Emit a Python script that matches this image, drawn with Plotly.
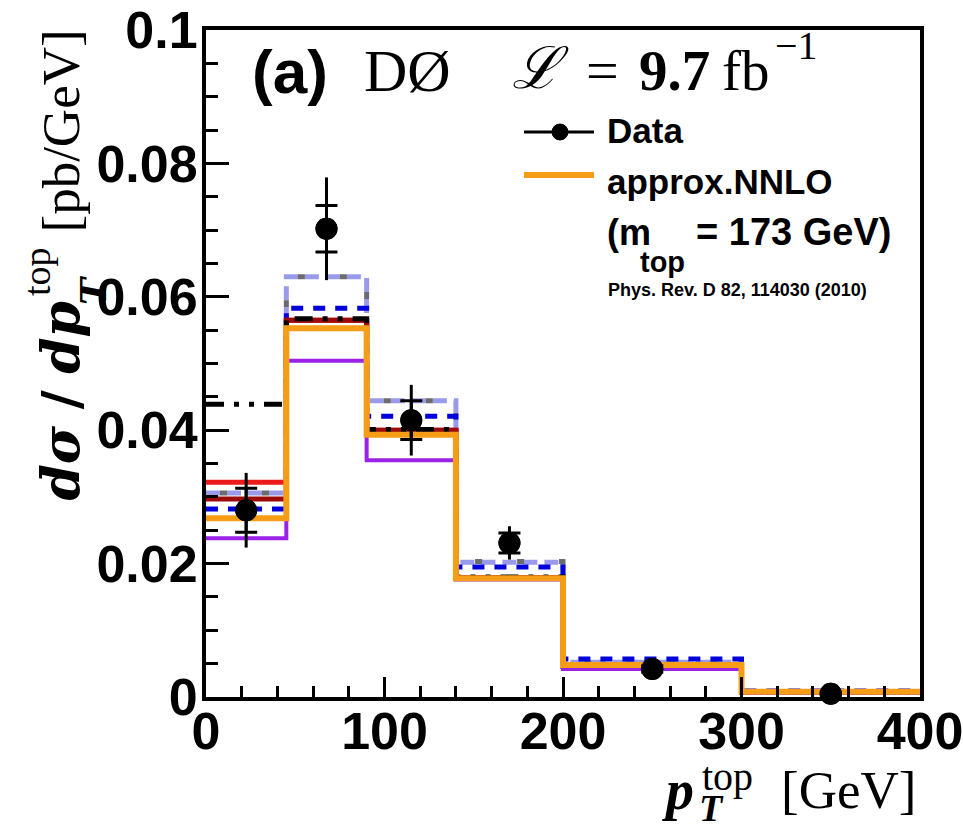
import plotly.graph_objects as go

# pT(top) binning [GeV]
bin_edges = [0, 45, 90, 140, 200, 300, 400]

# Measured differential cross section [pb/GeV] with total and statistical uncertainties
data_xsec = [0.0280, 0.0702, 0.0415, 0.0231, 0.0042, 0.0005]
data_err_total = [0.0056, 0.0077, 0.0053, 0.0025, 0.0008, 0.0004]
data_err_stat = [0.0033, 0.0035, 0.0029, 0.0015, 0.0005, 0.0002]

# Theory / generator predictions per bin [pb/GeV]
pred_approx_nnlo = [0.0268, 0.0553, 0.0393, 0.0178, 0.0048, 0.0008]
pred_purple = [0.0238, 0.0504, 0.0355, 0.0176, 0.0042, 0.0006]
pred_red = [0.0322, 0.0565, 0.0400, 0.0179, 0.0046, 0.0007]
pred_darkred = [0.0297, 0.0565, 0.0400, 0.0179, 0.0046, 0.0007]
pred_dashdot = [0.0439, 0.0567, 0.0401, 0.0180, 0.0045, 0.0007]
pred_blue = [0.0282, 0.0583, 0.0421, 0.0195, 0.0057, 0.0009]
pred_lightblue = [0.0306, 0.0630, 0.0444, 0.0202, 0.0052, 0.0008]
pred_gray = [0.0306, 0.0630, 0.0444, 0.0203, 0.0052, 0.0008]

y_tick_vals = [0, 0.02, 0.04, 0.06, 0.08, 0.1]
y_tick_text = ["0", "0.02", "0.04", "0.06", "0.08", "0.1"]
x_tick_vals = [0, 100, 200, 300, 400]
x_tick_text = ["0", "100", "200", "300", "400"]

W, H = 963, 831
ML, MR, MT, MB = 206, 43, 30, 134
PW, PH = W - ML - MR, H - MT - MB


def px(xp):
    return (xp - ML) / PW


def py(yp):
    return (H - MB - yp) / PH


def step(values):
    return list(values) + [values[-1]]


centers = [(lo + hi) / 2 for lo, hi in zip(bin_edges[:-1], bin_edges[1:])]

fig = go.Figure()

hist_styles = [
    (pred_lightblue, "#9a9aea", 5, "14px,7px"),
    (pred_gray, "#6c6c6c", 5, "0px,14px,7px,21px"),
    (pred_blue, "#0000dd", 5, "12px,10px"),
    (pred_red, "#ec1a1a", 5, "solid"),
    (pred_darkred, "#9c0a0a", 5, "solid"),
    (pred_dashdot, "black", 5, "18px,10px,5px,10px,5px,10px"),
    (pred_purple, "#9a22e6", 4, "solid"),
    (pred_approx_nnlo, "#f59d16", 6, "solid"),
]
for vals, color, width, dash in hist_styles:
    fig.add_trace(go.Scatter(
        x=bin_edges, y=step(vals), mode="lines",
        line=dict(color=color, width=width, dash=dash, shape="hv"),
        showlegend=False, hoverinfo="skip",
    ))

# total uncertainty (plain bar)
fig.add_trace(go.Scatter(
    x=centers, y=data_xsec, mode="markers",
    marker=dict(color="black", size=22),
    error_y=dict(type="data", array=data_err_total, color="black",
                 thickness=3, width=0),
    cliponaxis=False, showlegend=False,
))
# statistical uncertainty (cross ticks)
fig.add_trace(go.Scatter(
    x=centers, y=data_xsec, mode="markers",
    marker=dict(color="black", size=22),
    error_y=dict(type="data", array=data_err_stat, color="black",
                 thickness=3, width=11),
    cliponaxis=False, showlegend=False,
))

tick_font = dict(family="Liberation Sans", size=52, color="black", weight="bold")

fig.update_xaxes(
    range=[0, 400], tickvals=x_tick_vals, ticktext=x_tick_text,
    ticks="inside", ticklen=20, tickwidth=3, tickcolor="black",
    minor=dict(ticks="inside", ticklen=11, tickwidth=3, dtick=20, tickcolor="black"),
    showline=True, linewidth=4, linecolor="black", mirror=True,
    showgrid=False, zeroline=False, tickfont=tick_font, ticklabelstandoff=-14,
    ticklabeloverflow="allow", automargin=False,
)
fig.update_yaxes(
    range=[0, 0.1], tickvals=y_tick_vals, ticktext=y_tick_text,
    ticks="inside", ticklen=23, tickwidth=3, tickcolor="black",
    minor=dict(ticks="inside", ticklen=12, tickwidth=3, dtick=0.005, tickcolor="black"),
    showline=True, linewidth=4, linecolor="black", mirror=True,
    showgrid=False, zeroline=False, tickfont=tick_font, ticklabelstandoff=-6,
    ticklabeloverflow="allow", automargin=False,
)

serif = "Liberation Serif"
math_serif = "DejaVu Serif"
sans = "Liberation Sans"


def text_at(xp, yp, text, size, family, xanchor="left", yanchor="middle", angle=0):
    return dict(x=px(xp), y=py(yp), xref="paper", yref="paper", text=text,
                textangle=angle, showarrow=False, xanchor=xanchor, yanchor=yanchor,
                font=dict(family=family, size=size, color="black"))


annotations = [
    # y-axis title: dσ / dp_T^top [pb/GeV], read bottom to top
    text_at(60, 300, "<b><i>dσ</i></b> <b>/</b> <b><i>dp</i></b>", 52, math_serif,
            xanchor="center", yanchor="top", angle=-90),
    text_at(93, 291, "<b><i>T</i></b>", 36, math_serif,
            xanchor="center", yanchor="middle", angle=-90),
    text_at(37, 272, "top", 38, serif,
            xanchor="center", yanchor="middle", angle=-90),
    text_at(60, 28, "[pb/GeV]", 53, serif,
            xanchor="center", yanchor="top", angle=-90),
    # x-axis title: p_T^top [GeV]
    text_at(660, 790, "<b><i>p</i></b>", 56, serif),
    text_at(697, 808, "<b><i>T</i></b>", 38, serif),
    text_at(700, 776, "top", 40, serif),
    text_at(918, 790, "[GeV]", 53, serif, xanchor="right"),
    # header
    text_at(250, 72, "<b>(a)</b>", 62, sans),
    text_at(362, 71, "DØ", 60, serif),
    text_at(510, 68, "<i>ℒ</i>", 58, serif),
    text_at(584, 70, "=", 58, serif),
    text_at(637, 70, "<b>9.7</b>", 57, serif),
    text_at(720, 70, "fb", 57, serif),
    text_at(773, 46, "−1", 40, serif),
    # legend text
    text_at(605, 130, "<b>Data</b>", 35, sans),
    text_at(605, 182, "<b>approx.NNLO</b>", 35, sans),
    text_at(605, 232, "<b>(m</b>", 36, sans),
    text_at(638, 262, "<b>top</b>", 29, sans),
    text_at(694, 232, "<b>= 173 GeV)</b>", 38, sans),
    text_at(606, 290, "<b>Phys. Rev. D 82, 114030 (2010)</b>", 18, sans),
]

shapes = [
    dict(type="line", xref="paper", yref="paper", x0=px(524), x1=px(594),
         y0=py(132), y1=py(132), line=dict(color="black", width=3)),
    dict(type="circle", xref="paper", yref="paper", xsizemode="pixel", ysizemode="pixel",
         xanchor=px(560), yanchor=py(132), x0=-8, x1=8, y0=-8, y1=8,
         fillcolor="black", line=dict(color="black", width=1)),
    dict(type="line", xref="paper", yref="paper", x0=px(524), x1=px(594),
         y0=py(175), y1=py(175), line=dict(color="#f59d16", width=6)),
]

fig.update_layout(
    width=W, height=H,
    margin=dict(l=ML, r=MR, t=MT, b=MB, pad=0),
    paper_bgcolor="white", plot_bgcolor="white",
    annotations=annotations, shapes=shapes, showlegend=False,
)

fig.write_html("out.html")
